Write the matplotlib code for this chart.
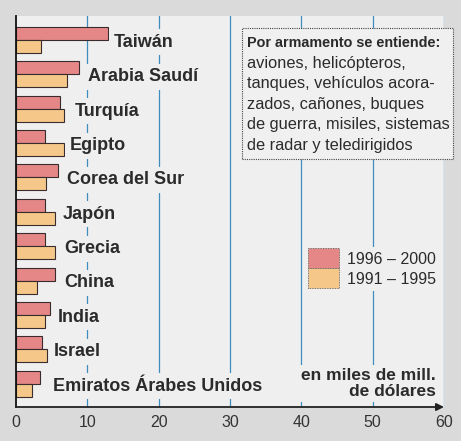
import numpy as np
import matplotlib
matplotlib.use("Agg")
import matplotlib.pyplot as plt
from matplotlib.patches import Rectangle

plt.rcParams["font.family"] = ["Liberation Sans", "DejaVu Sans"]

# Data (miles de millones de dólares)
countries = ["Taiwán", "Arabia Saudí", "Turquía", "Egipto", "Corea del Sur",
             "Japón", "Grecia", "China", "India", "Israel",
             "Emiratos Árabes Unidos"]
v_1996_2000 = [12.9, 8.9, 6.2, 4.0, 5.9, 4.0, 4.1, 5.4, 4.7, 3.6, 3.3]
v_1991_1995 = [3.5, 7.1, 6.7, 6.7, 4.2, 5.4, 5.4, 2.9, 4.0, 4.3, 2.2]
periods = ["1996 – 2000", "1991 – 1995"]
xticks = [0, 10, 20, 30, 40, 50, 60]
note_title = "Por armamento se entiende:"
note_lines = ["aviones, helicópteros,",
              "tanques, vehículos acora-",
              "zados, cañones, buques",
              "de guerra, misiles, sistemas",
              "de radar y teledirigidos"]
unit_label = "en miles de mill.\nde dólares"

# where each country label starts, in pixels from the left edge
label_px = [114, 88, 75, 70, 67, 63, 64, 64, 58, 54, 53]

red = "#e58787"
yellow = "#f5c88a"
bar_edge = "#3a2c2c"
panel = "#efefef"
grid_col = "#3f8dbd"
txt = "#2b2b2b"

W, H = 461, 441
fig = plt.figure(figsize=(W / 100, H / 100), dpi=100, facecolor="#dadada")


def px(x, y):
    # pixel position -> figure fraction
    return x / W, 1 - y / H


ax = fig.add_axes([16 / W, 1 - 407 / H, (444 - 16) / W, (407 - 16) / H])
ax.set_facecolor(panel)

y = np.arange(len(countries))
h = 0.378
ax.barh(y - h / 2, v_1996_2000, height=h, color=red, edgecolor=bar_edge,
        linewidth=0.8, zorder=3)
ax.barh(y + h / 2, v_1991_1995, height=h, color=yellow, edgecolor=bar_edge,
        linewidth=0.8, zorder=3)
ax.set_xlim(0, 60)
ax.set_ylim(10.68, -0.70)

for xv in xticks[1:]:
    ax.axvline(xv, color=grid_col, lw=0.9, zorder=1)

for s in ["top", "right", "bottom"]:
    ax.spines[s].set_visible(False)
ax.spines["left"].set_color("#111111")
ax.spines["left"].set_linewidth(1.3)
ax.spines["left"].set_zorder(5)

ax.set_yticks([])
ax.set_xticks(xticks)
ax.tick_params(axis="x", length=0, labelsize=11.5, colors="#333333", pad=6)

# x axis drawn as an arrow
ax.annotate("", xy=(1.0, 0), xytext=(0, 0), xycoords="axes fraction",
            arrowprops=dict(arrowstyle="-|>", color="#222222", lw=1.3,
                            mutation_scale=11, shrinkA=0, shrinkB=0),
            annotation_clip=False, zorder=6)

# country labels right of the bars
for i, name in enumerate(countries):
    lx = (label_px[i] - 16) / (444 - 16) * 60
    ax.text(lx, i + 0.07, name, va="center", ha="left",
            fontsize=13, fontweight="bold", color=txt, zorder=4,
            bbox=dict(boxstyle="square,pad=0.25", fc=panel, ec="none"))

# note box
x0, y0 = px(242, 159)
x1, y1 = px(452.7, 28)
fig.add_artist(Rectangle((x0, y0), x1 - x0, y1 - y0, transform=fig.transFigure,
                         fc="#f0f0f0", ec="#444444", lw=0.8, ls=(0, (1, 1)),
                         zorder=5))
tx, ty = px(247, 43)
fig.text(tx, ty, note_title, fontsize=10.4, fontweight="bold", color=txt,
         va="center", ha="left", zorder=6)
for k, line in enumerate(note_lines):
    tx, ty = px(247, 63.5 + 20.4 * k)
    fig.text(tx, ty, line, fontsize=11.8, color=txt, va="center", ha="left",
             zorder=6)

# legend
for k, (lab, col) in enumerate(zip(periods, [red, yellow])):
    lx, ly = px(307.7, 268 + 20 * k)
    fig.add_artist(Rectangle((lx, ly), 31.6 / W, 20 / H,
                             transform=fig.transFigure, fc=col, ec="#555555",
                             lw=0.6, ls=(0, (1, 1)), zorder=5))
    tx, ty = px(346.7, 259 + 20 * k)
    fig.text(tx, ty, lab, fontsize=11.5, color=txt, va="center", ha="left",
             zorder=6, bbox=dict(boxstyle="square,pad=0.3", fc=panel, ec="none"))

# unit label
tx, ty = px(435.7, 383.3)
fig.text(tx, ty, unit_label, fontsize=12.5, fontweight="bold", color=txt,
         ha="right", va="center", multialignment="right", linespacing=1.1,
         zorder=6, bbox=dict(boxstyle="square,pad=0.15", fc=panel, ec="none"))

fig.savefig("out.png", dpi=100, facecolor=fig.get_facecolor())
